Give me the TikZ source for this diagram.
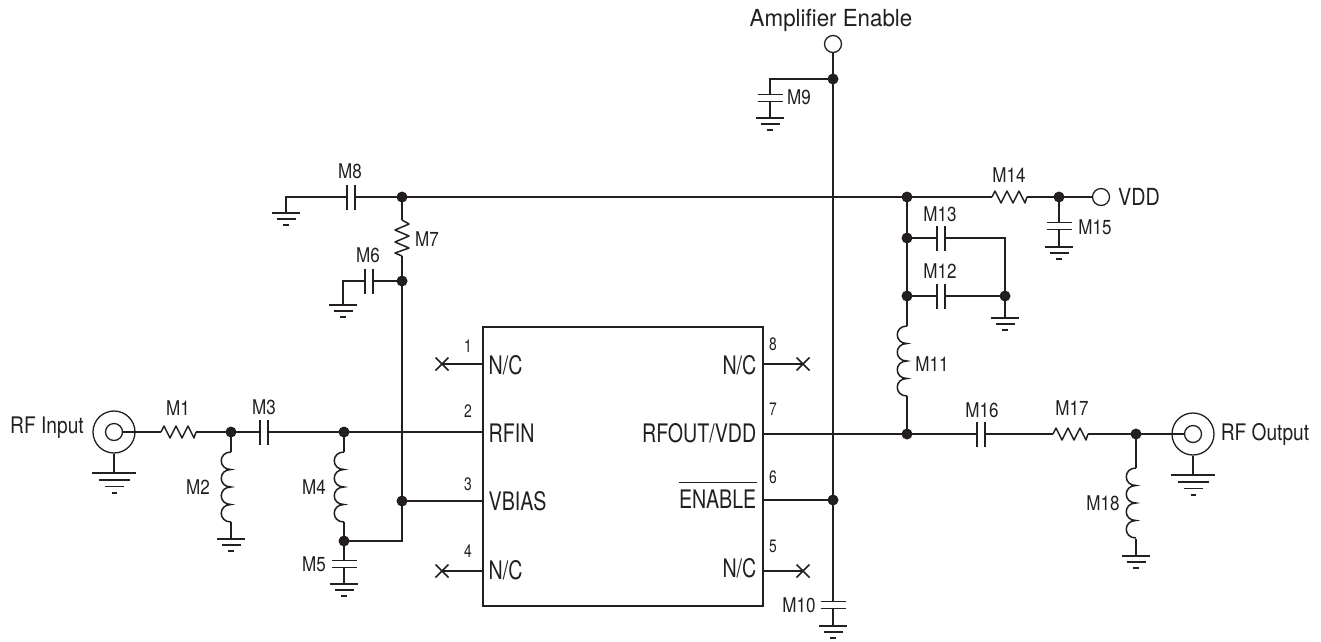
\documentclass[tikz,border=0pt]{standalone}
\usepackage{fontspec}
\usetikzlibrary{calc}
\setmainfont[FakeStretch=0.84]{TeX Gyre Heros}
\newfontfamily\pinfam[FakeStretch=0.77]{TeX Gyre Heros}
\newfontfamily\widefam[FakeStretch=0.95]{TeX Gyre Heros}
\definecolor{ink}{HTML}{231F20}
\tikzset{
  x=1pt,y=-1pt,
  wire/.style={draw=ink,line width=1.5pt},
  plate/.style={draw=ink,line width=1.5pt},
  boxline/.style={draw=ink,line width=2pt},
  dotn/.style={circle,fill=ink,inner sep=0pt,minimum size=11pt},
  ring/.style={circle,draw=ink,line width=1.3pt,inner sep=0pt,minimum size=#1},
  lab/.style={inner sep=0pt,text=ink,font=\fontsize{20.3}{22}\selectfont},
  big/.style={inner sep=0pt,text=ink,font=\fontsize{23.5}{26}\selectfont},
  pinname/.style={inner sep=0pt,text=ink,font=\pinfam\fontsize{25.5}{28}\selectfont},
  pinno/.style={inner sep=0pt,text=ink,font=\pinfam\fontsize{18}{20}\selectfont},
  gndS/.pic={\draw[plate] (-14,0)--(14,0) (-9.5,6)--(9.5,6) (-3,12)--(3,12);},
  gndL/.pic={\draw[plate] (-22,0)--(22,0) (-15.5,7)--(15.5,7) (-9.5,13.5)--(9.5,13.5) (-2.5,20)--(2.5,20);},
  resH/.pic={\draw[wire,line join=round] (0,0)--(3,-6)--(9,6)--(15,-6)--(21,6)--(27,-6)--(33,6)--(35,0);},
  resV/.pic={\draw[wire,line join=round] (0,0)--(7,4)--(-7,10)--(7,16)--(-7,22)--(7,28)--(-7,33)--(0,36);},
  coil/.pic={\draw[wire] (0,0) .. controls (-13,0) and (-13,17.5) .. (0,17.5)
       .. controls (-13,17.5) and (-13,35) .. (0,35)
       .. controls (-13,35) and (-13,52.5) .. (0,52.5)
       .. controls (-13,52.5) and (-13,70) .. (0,70);},
  capH/.pic={\draw[plate] (-4,-12.5)--(-4,12.5) (4,-12.5)--(4,12.5);},
  capV/.pic={\draw[plate] (-12.5,-3.5)--(12.5,-3.5) (-12.5,3.5)--(12.5,3.5);},
  xmark/.pic={\draw[wire] (-6.5,-6.5)--(6.5,6.5) (-6.5,6.5)--(6.5,-6.5);},
}
\begin{document}
\begin{tikzpicture}
\useasboundingbox (0,0) rectangle (1321,641);
% IC
\node[boxline,rectangle,minimum width=280pt,minimum height=279pt,inner sep=0pt,anchor=north west] (ic) at (482,326) {};
% junction dots
\foreach \n/\p in {d1/{231,432},d2/{344,432},d3/{344,541},d4/{402,501},d5/{402,281},d6/{402,197},
  d7/{833,79},d8/{833,500},d9/{907,197},d10/{907,238},d11/{907,296},d12/{1005,296},d13/{1059,197},
  d14/{907,434},d15/{1136,434}}
  {\node[dotn] (\n) at (\p) {};}
% terminals
\node[ring=42pt] (rfo1) at (114,432) {}; \node[ring=17pt] (rfi1) at (114,432) {};
\node[ring=42pt] (rfo2) at (1193,434) {}; \node[ring=17pt] (rfi2) at (1193,434) {};
\node[ring=17pt] (en) at (833,44) {};
\node[ring=17pt] (vdd) at (1101,197) {};
% component anchors
\foreach \n/\p in {m1a/{161,432},m1b/{196,432},m2a/{231,452},m2b/{231,522},gm2/{231,539},
  m3/{264,432},m4a/{344,452},m4b/{344,522},m5/{344,564},gm5/{344,584},
  m7a/{402,220},m7b/{402,256},m6/{369,281},c6/{343,281},gm6/{343,305},
  m8/{351,197},c8/{286,197},gm8/{286,213},
  c9/{770,79},m9/{770,98},gm9/{770,118},m10/{833,605},gm10/{833,626},
  m13/{941,238},c13/{1005,238},m12/{941,296},gm12/{1005,318},m11a/{907,326},m11b/{907,396},
  m14a/{992,197},m14b/{1027,197},m15/{1059,226},gm15/{1059,247},
  m16/{981,434},m17a/{1053,434},m17b/{1088,434},m18a/{1136,468},m18b/{1136,539},gm18/{1136,556},
  g1/{114,473},g2/{1193,475},
  p1/{482,364},p2/{482,432},p3/{482,501},p4/{482,571},p8/{762,364},p7/{762,434},p6/{762,500},p5/{762,571},
  x1/{442,364},x4/{442,571},x8/{803,364},x5/{803,571}}
  {\coordinate (\n) at (\p);}
% wires
\draw[wire] (rfi1.east)--(m1a) (m1b)--(d1.center)--(m3)--(d2.center)--(p2);
\draw[wire] (d1.center)--(m2a) (m2b)--(gm2);
\draw[wire] (d2.center)--(m4a) (m4b)--(d3.center)--(m5)--(gm5);
\draw[wire] (d3.center)-|(d4.center)--(d5.center)--(m7b) (m7a)--(d6.center);
\draw[wire] (d4.center)--(p3);
\draw[wire] (d5.center)--(m6)--(c6)--(gm6);
\draw[wire] (d6.center)--(m8)--(c8)--(gm8);
\draw[wire] (d6.center)--(d9.center)--(m14a) (m14b)--(d13.center)--(vdd.west);
\draw[wire] (d13.center)--(m15)--(gm15);
\draw[wire] (d9.center)--(d10.center)--(d11.center)--(m11a) (m11b)--(d14.center);
\draw[wire] (d10.center)--(m13)--(c13)--(d12.center)--(gm12);
\draw[wire] (d11.center)--(m12)--(d12.center);
\draw[wire] (p7)--(d14.center)--(m16)--(m17a) (m17b)--(d15.center)--(rfi2.west);
\draw[wire] (d15.center)--(m18a) (m18b)--(gm18);
\draw[wire] (en.south)--(d7.center)--(d8.center)--(m10)--(gm10);
\draw[wire] (d7.center)--(c9)--(m9)--(gm9);
\draw[wire] (p6)--(d8.center);
\draw[wire] (rfo1.south)--(g1) (rfo2.south)--(g2);
\draw[wire] (p1)--(x1) (p4)--(x4) (p8)--(x8) (p5)--(x5);
% white gaps in capacitors
\foreach \c in {m3,m6,m8,m12,m13,m16} {\fill[white] ($(\c)+(-3.2,-3)$) rectangle ($(\c)+(3.2,3)$);}
\foreach \c in {m5,m9,m10,m15} {\fill[white] ($(\c)+(-3,-2.7)$) rectangle ($(\c)+(3,2.7)$);}
% components
\foreach \c in {m3,m6,m8,m12,m13,m16} {\pic at (\c) {capH};}
\foreach \c in {m5,m9,m10,m15} {\pic at (\c) {capV};}
\foreach \c in {m1a,m14a,m17a} {\pic at (\c) {resH};}
\pic at (m7a) {resV};
\foreach \c in {m2a,m4a,m11a,m18a} {\pic at (\c) {coil};}
\foreach \c in {gm2,gm5,gm6,gm8,gm9,gm10,gm12,gm15,gm18} {\pic at (\c) {gndS};}
\pic at (g1) {gndL}; \pic at (g2) {gndL};
\foreach \c in {x1,x4,x8,x5} {\pic at (\c) {xmark};}
% component labels
\foreach \n/\t/\p in {l1/M1/{178,408},l2/M2/{198,487},l3/M3/{264,407},l4/M4/{314,487},l5/M5/{314,564},
  l6/M6/{368,255},l7/M7/{427,239},l8/M8/{350,171},l9/M9/{799,97},l10/M10/{799,605},l11/M11/{932,364},
  l12/M12/{940,271},l13/M13/{940,214},l14/M14/{1009,175},l15/M15/{1095,227},l16/M16/{982,410},
  l17/M17/{1072,408},l18/M18/{1103,503}}
  {\node[lab] (\n) at (\p) {\t};}
\node[big,font=\fontsize{22.8}{26}\selectfont] (trf1) at (47,428) {RF Input};
\node[big,font=\fontsize{22.8}{26}\selectfont] (trf2) at (1265,434) {RF Output};
\node[big,font=\widefam\fontsize{23.5}{26}\selectfont] (ten) at (831,20) {Amplifier Enable};
\node[big] (tv) at (1139,197) {VDD};
% pin names
\foreach \n/\t/\y in {t1/N\slash C/365,t2/RFIN/433,t3/VBIAS/501,t4/N\slash C/570}
  {\node[pinname,anchor=west] (\n) at (488.5,\y) {\t};}
\foreach \n/\t/\y in {t8/N\slash C/365,t7/RFOUT\slash VDD/433,t6/ENABLE/499,t5/N\slash C/568}
  {\node[pinname,anchor=east] (\n) at (756.5,\y) {\t};}
\draw[draw=ink,line width=1pt] ($(t6.north west)+(0,-7)$) -- ($(t6.north east)+(0,-7)$);
% pin numbers
\foreach \n/\t/\p in {n1/1/{468,346},n2/2/{468,411},n3/3/{468,484},n4/4/{468,551},
  n8/8/{773,344},n7/7/{773,409},n6/6/{773,477},n5/5/{773,546}}
  {\node[pinno] (\n) at (\p) {\t};}
\end{tikzpicture}
\end{document}
